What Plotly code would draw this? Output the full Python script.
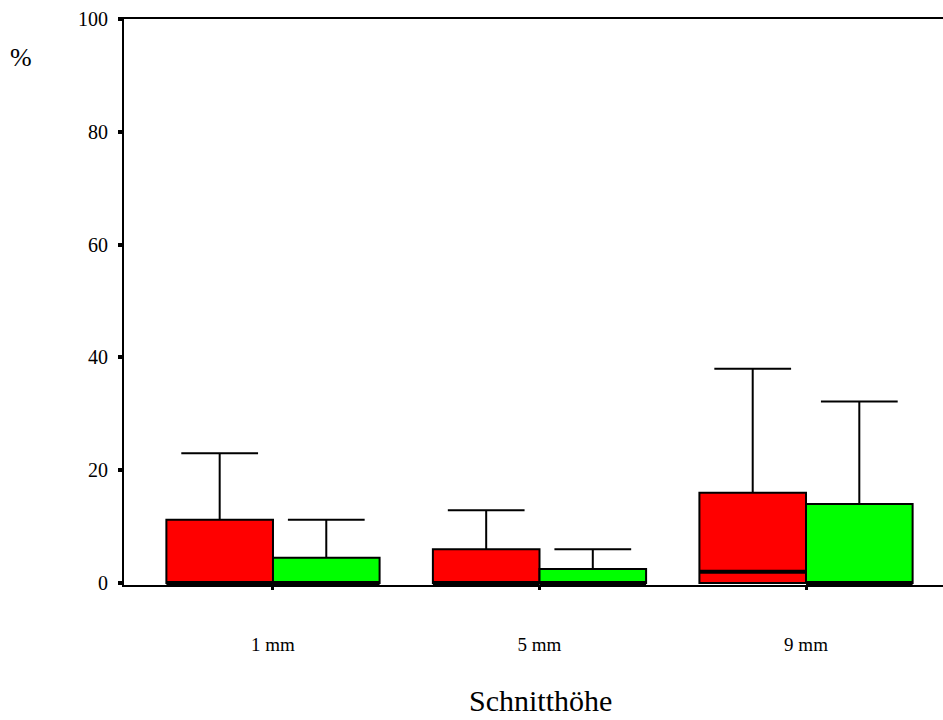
import plotly.graph_objects as go

categories = ["1 mm", "5 mm", "9 mm"]
# red group
red_q3 = [11.2, 6.0, 16.0]
red_median = [0, 0, 2.0]
red_upper = [23.0, 12.9, 38.0]
# green group
green_q3 = [4.5, 2.5, 14.0]
green_median = [0, 0, 0]
green_upper = [11.2, 6.0, 32.2]
lower = [0, 0, 0]

font = "Liberation Serif, Times New Roman, serif"
XR = [-0.559, 2.514]
YR = [-0.35, 100]

fig = go.Figure()
fig.add_trace(go.Box(
    x=categories, q1=lower, median=red_median, q3=red_q3,
    lowerfence=lower, upperfence=red_upper,
    fillcolor="#ff0000", line=dict(color="black", width=2),
    whiskerwidth=0.72, name="red", showlegend=False, hoverinfo="skip"))
fig.add_trace(go.Box(
    x=categories, q1=lower, median=green_median, q3=green_q3,
    lowerfence=lower, upperfence=green_upper,
    fillcolor="#00ff00", line=dict(color="black", width=2),
    whiskerwidth=0.72, name="green", showlegend=False, hoverinfo="skip"))

# thick median lines on an overlaid numeric axis
for k, med in enumerate([red_median, green_median]):
    xs, ys = [], []
    for i, m in enumerate(med):
        x0 = i - 0.4 if k == 0 else i
        xs += [x0, x0 + 0.4, None]
        ys += [m, m, None]
    fig.add_trace(go.Scatter(x=xs, y=ys, mode="lines", xaxis="x2",
                             line=dict(color="black", width=4),
                             showlegend=False, hoverinfo="skip"))

fig.update_layout(
    width=943, height=720,
    margin=dict(l=124, r=0, t=19, b=135),
    paper_bgcolor="white", plot_bgcolor="white",
    boxmode="group", boxgap=0.2, boxgroupgap=0,
    font=dict(family=font, color="black", size=18),
    xaxis=dict(
        type="category", range=XR,
        showline=True, linecolor="black", linewidth=2, mirror=True,
        showgrid=False, zeroline=False,
        ticks="outside", ticklen=3, tickwidth=3, tickcolor="black",
        ticklabelstandoff=38, tickfont=dict(size=19),
    ),
    xaxis2=dict(overlaying="x", range=XR, visible=False),
    yaxis=dict(
        range=YR, tickvals=[0, 20, 40, 60, 80, 100],
        showline=True, linecolor="black", linewidth=2,
        showgrid=False, zeroline=False,
        ticks="outside", ticklen=4, tickwidth=4, tickcolor="black",
        ticklabelstandoff=6, tickfont=dict(size=20),
    ),
    annotations=[
        dict(text="%", xref="paper", yref="paper",
             x=(21 - 124) / 819, y=(585 - 57) / 566,
             xanchor="center", yanchor="middle", showarrow=False,
             font=dict(size=26)),
        dict(text="Schnitthöhe", xref="paper", yref="paper",
             x=(540 - 124) / 819, y=(585 - 700) / 566,
             xanchor="center", yanchor="middle", showarrow=False,
             font=dict(size=30)),
    ],
)

fig.write_html("out.html", config={"displayModeBar": False},
               post_script="document.body.style.margin='0px';")
